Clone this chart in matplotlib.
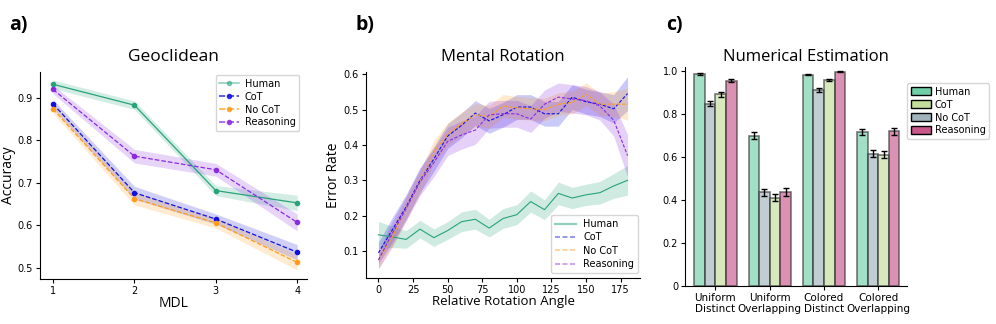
import numpy as np
import matplotlib.pyplot as plt
from matplotlib.lines import Line2D
from matplotlib.patches import Patch

# ---------------------------------------------------------------- data
mdl = [1, 2, 3, 4]
geo_human = [0.932, 0.883, 0.682, 0.653]
geo_human_err = [0.010, 0.010, 0.012, 0.018]
geo_cot = [0.886, 0.677, 0.615, 0.537]
geo_cot_err = [0.010, 0.015, 0.012, 0.018]
geo_nocot = [0.874, 0.663, 0.606, 0.513]
geo_nocot_err = [0.010, 0.015, 0.012, 0.018]
geo_reason = [0.920, 0.763, 0.731, 0.607]
geo_reason_err = [0.010, 0.016, 0.015, 0.020]

angles = [0, 10, 20, 30, 40, 50, 60, 70, 80, 90, 100, 110, 120, 130, 140, 150, 160, 170, 180]
rot_human = [0.146, 0.140, 0.133, 0.162, 0.138, 0.158, 0.183, 0.190, 0.165, 0.192,
             0.203, 0.240, 0.217, 0.263, 0.250, 0.259, 0.265, 0.284, 0.300]
rot_human_err = [0.038, 0.030, 0.025, 0.025, 0.025, 0.025, 0.028, 0.028, 0.025, 0.028,
                 0.028, 0.030, 0.028, 0.032, 0.030, 0.030, 0.032, 0.035, 0.042]
rot_cot = [0.095, 0.160, 0.225, 0.300, 0.360, 0.425, 0.455, 0.490, 0.468, 0.485,
           0.507, 0.507, 0.488, 0.488, 0.535, 0.522, 0.515, 0.502, 0.545]
rot_cot_err = [0.030, 0.035, 0.035, 0.035, 0.035, 0.035, 0.035, 0.035, 0.035, 0.035,
               0.035, 0.035, 0.035, 0.035, 0.035, 0.035, 0.035, 0.040, 0.048]
rot_nocot = [0.075, 0.140, 0.220, 0.295, 0.380, 0.430, 0.460, 0.485, 0.480, 0.510,
             0.505, 0.502, 0.500, 0.515, 0.520, 0.543, 0.515, 0.515, 0.515]
rot_nocot_err = [0.025, 0.030, 0.032, 0.032, 0.032, 0.032, 0.032, 0.032, 0.032, 0.032,
                 0.032, 0.032, 0.032, 0.032, 0.032, 0.032, 0.032, 0.035, 0.045]
rot_reason = [0.075, 0.150, 0.220, 0.295, 0.350, 0.410, 0.428, 0.442, 0.485, 0.488,
              0.488, 0.473, 0.515, 0.535, 0.530, 0.525, 0.510, 0.470, 0.370]
rot_reason_err = [0.025, 0.035, 0.035, 0.038, 0.040, 0.040, 0.040, 0.040, 0.038, 0.038,
                  0.038, 0.038, 0.040, 0.040, 0.040, 0.040, 0.040, 0.045, 0.060]

num_groups = ['Uniform\nDistinct', 'Uniform\nOverlapping', 'Colored\nDistinct', 'Colored\nOverlapping']
num_human = [0.987, 0.700, 0.985, 0.718]
num_human_err = [0.004, 0.015, 0.004, 0.013]
num_nocot = [0.850, 0.437, 0.912, 0.617]
num_nocot_err = [0.010, 0.016, 0.008, 0.016]
num_cot = [0.892, 0.412, 0.960, 0.611]
num_cot_err = [0.010, 0.015, 0.005, 0.016]
num_reason = [0.957, 0.438, 0.998, 0.721]
num_reason_err = [0.008, 0.018, 0.002, 0.016]

# ---------------------------------------------------------------- style
plt.rcParams['font.family'] = ['DejaVu Sans']
title_font = 'Open Sans'

c_human = '#27a37a'
c_cot = '#1010e0'
c_nocot = '#ff9d1a'
c_reason = '#8a2be2'

fig = plt.figure(figsize=(9.96, 3.24), dpi=100)
ax1 = fig.add_axes([40 / 996, 45 / 324, 267 / 996, 207 / 324])
ax2 = fig.add_axes([366 / 996, 46 / 324, 274 / 996, 206 / 324])
ax3 = fig.add_axes([685 / 996, 38 / 324, 222 / 996, 219 / 324])

for ax in (ax1, ax2, ax3):
    ax.spines['top'].set_visible(False)
    ax.spines['right'].set_visible(False)
    ax.tick_params(labelsize=7, length=3, pad=2)

# ---------------------------------------------------------------- a) Geoclidean
series = [
    ('Human', geo_human, geo_human_err, c_human, '-'),
    ('CoT', geo_cot, geo_cot_err, c_cot, '--'),
    ('No CoT', geo_nocot, geo_nocot_err, c_nocot, '--'),
    ('Reasoning', geo_reason, geo_reason_err, c_reason, '--'),
]
x = np.array(mdl)
for name, y, e, c, ls in series:
    y = np.array(y)
    e = np.array(e)
    ax1.fill_between(x, y - e, y + e, color=c, alpha=0.2, lw=0)
    ax1.plot(x, y, ls, color=c, lw=0.9, marker='o', ms=3, label=name)
ax1.set_xlim(0.84, 4.12)
ax1.set_ylim(0.474, 0.961)
ax1.set_xticks(mdl)
ax1.set_yticks([0.5, 0.6, 0.7, 0.8, 0.9])
ax1.set_xlabel('MDL', fontsize=10, family=title_font, labelpad=0)
ax1.set_ylabel('Accuracy', fontsize=10, family=title_font, labelpad=1)
ax1.set_title('Geoclidean', fontsize=12.5, family=title_font, pad=8)
h1 = [Line2D([], [], color=c, ls=ls, lw=1.2, marker='o', ms=3,
             alpha=0.5 if name == 'Human' else 0.8) for name, _, _, c, ls in series]
for h, (name, _, _, c, _) in zip(h1, series):
    h.set_markerfacecolor(c)
    h.set_markeredgecolor(c)
ax1.legend(h1, [s[0] for s in series], loc='upper right', fontsize=7,
           handlelength=2.0, borderpad=0.4, labelspacing=0.3, handletextpad=0.6,
           bbox_to_anchor=(0.99, 1.01))

# ---------------------------------------------------------------- b) Mental Rotation
series = [
    ('Human', rot_human, rot_human_err, c_human, '-'),
    ('CoT', rot_cot, rot_cot_err, c_cot, (0, (3, 1.5))),
    ('No CoT', rot_nocot, rot_nocot_err, c_nocot, (0, (3, 1.5))),
    ('Reasoning', rot_reason, rot_reason_err, c_reason, (0, (3, 1.5))),
]
x = np.array(angles)
for name, y, e, c, ls in series:
    y = np.array(y)
    e = np.array(e)
    ax2.fill_between(x, y - e, y + e, color=c, alpha=0.22, lw=0)
    ax2.plot(x, y, color=c, ls=ls, lw=0.8, label=name)
ax2.set_xlim(-9, 189)
ax2.set_ylim(0.024, 0.606)
ax2.set_xticks([0, 25, 50, 75, 100, 125, 150, 175])
ax2.set_yticks([0.1, 0.2, 0.3, 0.4, 0.5, 0.6])
ax2.set_xlabel('Relative Rotation Angle', fontsize=9.5, family=title_font, labelpad=0)
ax2.set_ylabel('Error Rate', fontsize=10, family=title_font, labelpad=2)
ax2.set_title('Mental Rotation', fontsize=12, family=title_font, pad=8)
h2 = [Line2D([], [], color=c, ls=ls, lw=1.6 if name == 'Human' else 1.2, alpha=0.5)
      for name, _, _, c, ls in series]
ax2.legend(h2, [s[0] for s in series], loc='lower right', fontsize=7,
           handlelength=2.2, borderpad=0.4, labelspacing=0.35, handletextpad=0.7,
           bbox_to_anchor=(1.01, 0.0))

# ---------------------------------------------------------------- c) Numerical Estimation
bar_series = [
    ('Human', num_human, num_human_err, '#6fd0a8'),
    ('No CoT', num_nocot, num_nocot_err, '#9fb4bd'),
    ('CoT', num_cot, num_cot_err, '#c3dd9a'),
    ('Reasoning', num_reason, num_reason_err, '#c9578a'),
]
gx = np.arange(len(num_groups))
w = 0.195
for i, (name, y, e, c) in enumerate(bar_series):
    ax3.bar(gx + (i - 1.5) * w, y, w, color=c, alpha=0.65, edgecolor='#333333', lw=1.2)
    ax3.errorbar(gx + (i - 1.5) * w, y, yerr=e, fmt='none', ecolor='black',
                 elinewidth=1.0, capsize=2, capthick=1.0)
ax3.set_xlim(-0.56, 3.53)
ax3.set_ylim(0, 1.02)
ax3.set_xticks(gx)
ax3.set_xticklabels(num_groups, fontsize=7.5, linespacing=1.1)
ax3.set_yticks([0, 0.2, 0.4, 0.6, 0.8, 1.0])
ax3.set_yticklabels(['0', '0.2', '0.4', '0.6', '0.8', '1.0'])
ax3.set_title('Numerical Estimation', fontsize=12, family=title_font, pad=4, x=0.545)
legend_order = ['Human', 'CoT', 'No CoT', 'Reasoning']
colors = {s[0]: s[3] for s in bar_series}
h3 = [Patch(facecolor=colors[n], edgecolor='black', lw=1.0) for n in legend_order]
ax3.legend(h3, legend_order, loc='upper left', bbox_to_anchor=(0.98, 0.95), fontsize=7,
           handlelength=2.0, handleheight=0.9, borderpad=0.4, labelspacing=0.3,
           handletextpad=0.4)

# ---------------------------------------------------------------- panel labels
for lx, lab in [(9, 'a)'), (355, 'b)'), (666, 'c)')]:
    fig.text(lx / 996, 1 - 30 / 324, lab, fontsize=14, fontweight='bold', family=title_font)

fig.savefig('out.png', dpi=100)
